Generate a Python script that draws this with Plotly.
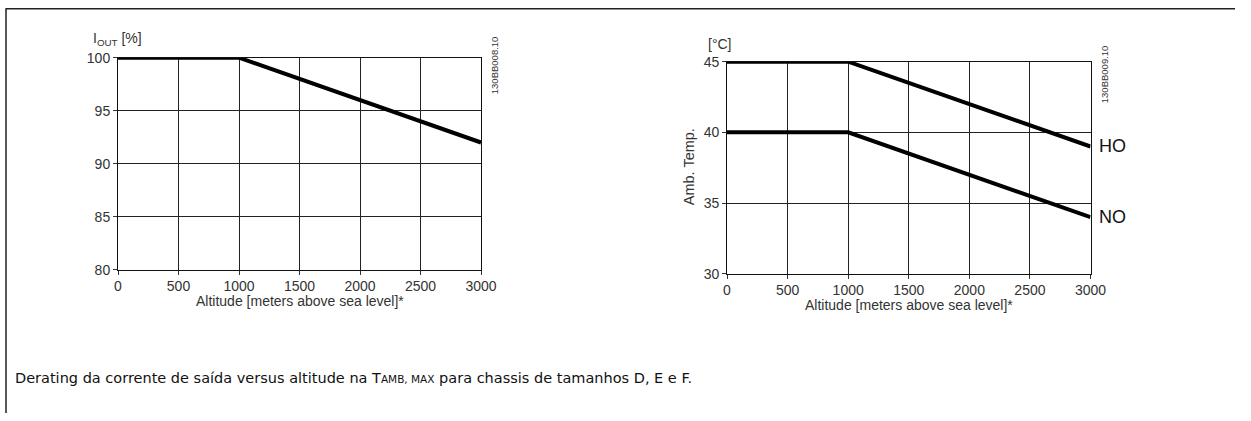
import plotly.graph_objects as go

# ---- data ----
altitude = [0, 1000, 3000]
iout_pct = [100, 100, 92]
temp_ho = [45, 45, 39]
temp_no = [40, 40, 34]
x_ticks = [0, 500, 1000, 1500, 2000, 2500, 3000]
y1_ticks = [80, 85, 90, 95, 100]
y2_ticks = [30, 35, 40, 45]

W, H = 1251, 421
# map target pixel positions to paper fractions (compensates the page photo offset/scale)
def px(x):
    return ((x - 3.5) / 0.984) / W
def py(y):
    return 1 - ((y - 8.3) / 0.962) / H

fig = go.Figure()
line_style = dict(color="black", width=4)
fig.add_trace(go.Scatter(x=altitude, y=iout_pct, mode="lines", line=line_style,
                         xaxis="x", yaxis="y", cliponaxis=False, showlegend=False))
fig.add_trace(go.Scatter(x=altitude, y=temp_ho, mode="lines", line=line_style,
                         xaxis="x2", yaxis="y2", cliponaxis=False, showlegend=False))
fig.add_trace(go.Scatter(x=altitude, y=temp_no, mode="lines", line=line_style,
                         xaxis="x2", yaxis="y2", cliponaxis=False, showlegend=False))

tickfont = dict(family="Liberation Sans, Arial", size=14, color="#333")
axis_common = dict(showgrid=True, gridcolor="#222", gridwidth=1, zeroline=False,
                   showline=True, linecolor="#111", linewidth=1, mirror=True,
                   ticks="outside", ticklen=4, tickcolor="#333", tickwidth=1,
                   tickfont=tickfont, fixedrange=True)

fig.update_layout(
    width=W, height=H, autosize=False,
    margin=dict(l=0, r=0, t=0, b=0, pad=0),
    paper_bgcolor="white", plot_bgcolor="white",
    xaxis=dict(domain=[px(117.5), px(480.5)], range=[0, 3000], tickvals=x_ticks,
               anchor="y", **axis_common),
    yaxis=dict(domain=[py(270), py(58)], range=[80, 100], tickvals=y1_ticks,
               anchor="x", **axis_common),
    xaxis2=dict(domain=[px(726.5), px(1090)], range=[0, 3000], tickvals=x_ticks,
                anchor="y2", **axis_common),
    yaxis2=dict(domain=[py(274), py(62)], range=[30, 45], tickvals=y2_ticks,
                anchor="x2", **axis_common),
    showlegend=False,
)

lab = dict(family="Liberation Sans, Arial", color="#333")
annos = [
    dict(x=px(299), y=py(301), text="Altitude [meters above sea level]*",
         font=dict(size=14, **lab), xanchor="center", yanchor="middle"),
    dict(x=px(908), y=py(305), text="Altitude [meters above sea level]*",
         font=dict(size=14, **lab), xanchor="center", yanchor="middle"),
    dict(x=px(90), y=py(39), text="I<sub>OUT</sub> [%]",
         font=dict(size=14, **lab), xanchor="left", yanchor="middle"),
    dict(x=px(705), y=py(44), text="[°C]",
         font=dict(size=14, **lab), xanchor="left", yanchor="middle"),
    dict(x=px(688), y=py(167), text="Amb. Temp.", textangle=-90,
         font=dict(size=14.5, **lab), xanchor="center", yanchor="middle"),
    dict(x=px(494), y=py(66), text="130BB008.10", textangle=-90,
         font=dict(size=9.5, **lab), xanchor="center", yanchor="middle"),
    dict(x=px(1104), y=py(75), text="130BB009.10", textangle=-90,
         font=dict(size=9.5, **lab), xanchor="center", yanchor="middle"),
    dict(x=px(1096), y=py(146), text="HO",
         font=dict(size=18, family="Liberation Sans, Arial", color="#111"),
         xanchor="left", yanchor="middle"),
    dict(x=px(1096), y=py(217), text="NO",
         font=dict(size=18, family="Liberation Sans, Arial", color="#111"),
         xanchor="left", yanchor="middle"),
    dict(x=px(12), y=py(378),
         text="Derating da corrente de saída versus altitude na T<span style='font-size:10.5px'>AMB, MAX</span> para chassis de tamanhos D, E e F.",
         font=dict(size=14.5, family="DejaVu Sans", color="#111"),
         xanchor="left", yanchor="middle"),
]
for a in annos:
    a.update(xref="paper", yref="paper", showarrow=False)
fig.update_layout(annotations=annos)

fig.update_layout(shapes=[
    dict(type="line", xref="paper", yref="paper", x0=px(5), x1=1, y0=py(9), y1=py(9),
         line=dict(color="#222", width=1.5)),
    dict(type="line", xref="paper", yref="paper", x0=px(5.5), x1=px(5.5), y0=py(9), y1=0,
         line=dict(color="#222", width=1.5)),
])

fig.write_html("out.html", config={"displayModeBar": False},
               post_script="document.body.style.margin='0';document.documentElement.style.overflow='hidden';")
